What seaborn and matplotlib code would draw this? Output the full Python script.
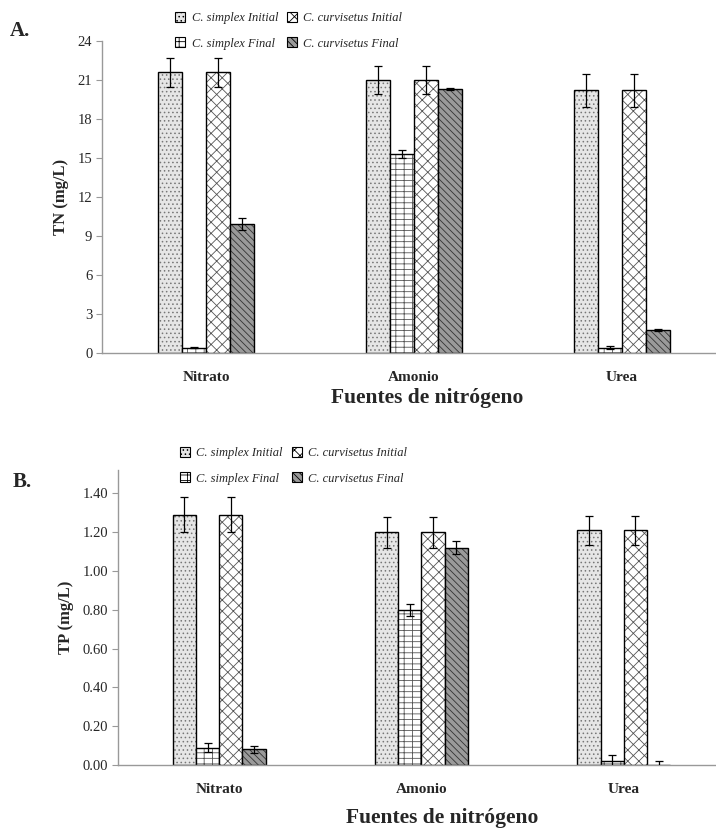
import numpy as np, pandas as pd
import matplotlib; matplotlib.use('Agg')
import matplotlib.pyplot as plt
import seaborn as sns

sources=['Nitrato','Amonio','Urea']
series=['C. simplex Initial','C. simplex Final','C. curvisetus Initial','C. curvisetus Final']
# TN (mg/L), panel A
tn_simplex_ini=[21.6,21.0,20.2]; tn_simplex_ini_err=[1.1,1.1,1.3]
tn_simplex_fin=[0.4,15.3,0.4];   tn_simplex_fin_err=[0.05,0.3,0.1]
tn_curv_ini=[21.6,21.0,20.2];    tn_curv_ini_err=[1.1,1.1,1.3]
tn_curv_fin=[9.9,20.3,1.75];     tn_curv_fin_err=[0.45,0.05,0.08]
# TP (mg/L), panel B
tp_simplex_ini=[1.29,1.20,1.21]; tp_simplex_ini_err=[0.09,0.08,0.075]
tp_simplex_fin=[0.09,0.80,0.02]; tp_simplex_fin_err=[0.025,0.03,0.03]
tp_curv_ini=[1.29,1.20,1.21];    tp_curv_ini_err=[0.09,0.08,0.075]
tp_curv_fin=[0.08,1.12,0.0];     tp_curv_fin_err=[0.02,0.035,0.02]

sns.set_style('white')
plt.rcParams['font.family']=['Liberation Serif','DejaVu Serif']
plt.rcParams['hatch.linewidth']=0.6

styles={'C. simplex Initial':('#e6e6e6','....','#777777'),
        'C. simplex Final':('#ffffff','---||','#555555'),
        'C. curvisetus Initial':('#ffffff','xxx','#555555'),
        'C. curvisetus Final':('#9a9a9a','\\\\\\\\\\','#333333')}

def panel(ax,vals,errs,ylim,yticks,fmt,ylabel,xlab_xy):
    df=pd.DataFrame([(s,c,v) for s,vs in zip(series,vals) for c,v in zip(sources,vs)],
                    columns=['serie','fuente','valor'])
    sns.barplot(data=df,x='fuente',y='valor',hue='serie',order=sources,hue_order=series,
                width=0.46,errorbar=None,ax=ax,legend=False,edgecolor='black',linewidth=1.0)
    for cont,s,e in zip(ax.containers,series,errs):
        fc,h,hc=styles[s]
        xs=[]; hs=[]
        for p in cont.patches:
            p.set_facecolor(fc); p.set_hatch(h); p._hatch_color=matplotlib.colors.to_rgba(hc)
            xs.append(p.get_x()+p.get_width()/2); hs.append(p.get_height())
        ax.errorbar(xs,hs,yerr=e,fmt='none',ecolor='black',elinewidth=0.9,capsize=3,capthick=0.9,zorder=5)
    ax.set_xlim(-0.5,2.5); ax.set_ylim(*ylim)
    ax.set_yticks(yticks); ax.set_yticklabels([fmt%t for t in yticks],fontsize=10.5)
    ax.set_xticks(range(3)); ax.set_xticklabels(sources,fontsize=11,fontweight='bold')
    ax.set_xticks([0.5,1.5],minor=True)
    ax.tick_params(axis='x',which='major',length=0,pad=13)
    ax.tick_params(axis='x',which='minor',length=3,color='#999999')
    ax.tick_params(axis='y',length=4,color='#999999',left=True,pad=3)
    ax.set_xlabel('Fuentes de nitrógeno',fontsize=15.5,fontweight='bold')
    ax.xaxis.set_label_coords(*xlab_xy)
    ax.set_ylabel(ylabel,fontsize=12,fontweight='bold',labelpad=6)
    sns.despine(ax=ax)
    for sp in ('left','bottom'): ax.spines[sp].set_color('#999999'); ax.spines[sp].set_linewidth(1.0)
    hl=[matplotlib.patches.Patch(facecolor=styles[s][0],hatch=styles[s][1],edgecolor='black',linewidth=0.8) for s in series]
    return hl

fig=plt.figure(figsize=(7.16,8.30),dpi=100)
W,H=716,830
axA=fig.add_axes([102/W,1-353/H,624/W,312/H])
axB=fig.add_axes([118/W,1-765/H,607/W,295/H])
hl=panel(axA,[tn_simplex_ini,tn_simplex_fin,tn_curv_ini,tn_curv_fin],
         [tn_simplex_ini_err,tn_simplex_fin_err,tn_curv_ini_err,tn_curv_fin_err],
         (0,24),np.arange(0,25,3),'%d','TN (mg/L)',(0.521,-0.112))
panel(axB,[tp_simplex_ini,tp_simplex_fin,tp_curv_ini,tp_curv_fin],
      [tp_simplex_ini_err,tp_simplex_fin_err,tp_curv_ini_err,tp_curv_fin_err],
      (0,1.52),np.round(np.arange(0,1.41,0.2),2),'%.2f','TP (mg/L)',(0.534,-0.146))

for x,y in ((169,6),(174,441)):
    fig.legend(hl,series,loc='upper left',bbox_to_anchor=(x/W,1-y/H),ncol=2,borderpad=0,
               frameon=False,prop={'style':'italic','size':9},handlelength=0.8,handleheight=0.8,
               handletextpad=0.5,labelspacing=1.05,columnspacing=0.7)
fig.text(10/W,1-31/H,'A.',fontsize=15,fontweight='bold',va='center')
fig.text(13/W,1-482/H,'B.',fontsize=15,fontweight='bold',va='center')
fig.savefig('out.png',dpi=100)
